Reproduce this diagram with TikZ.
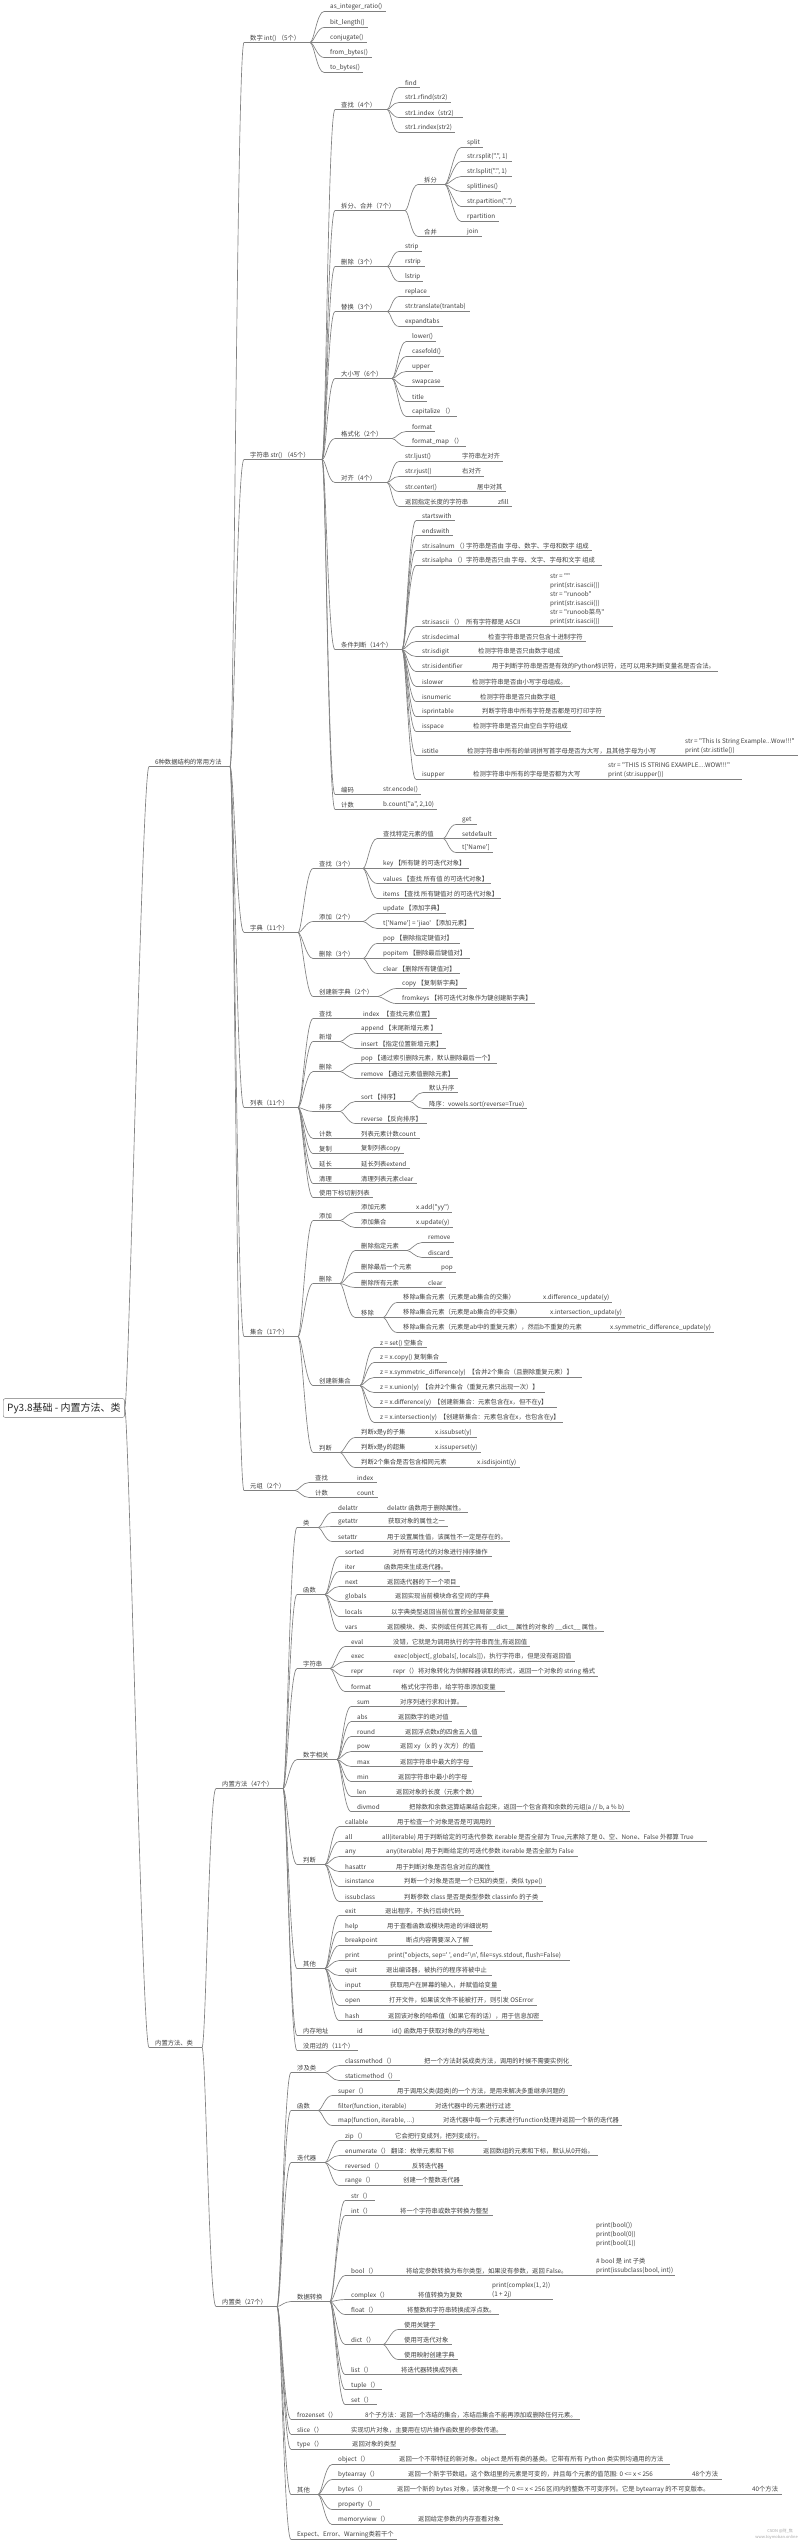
\documentclass[tikz,border=0pt]{standalone}
\usepackage{fontspec}
\setmainfont{Noto Sans CJK SC}
\newfontfamily\cjkf{Noto Sans CJK SC}
\usetikzlibrary{calc}
\tikzset{
  tx/.style={anchor=west, inner sep=0pt, font=\cjkf\fontsize{6.3}{9}\selectfont, text=black!75},
  code/.style={anchor=south west, inner sep=0pt, align=left, font=\cjkf\fontsize{6.3}{9}\selectfont, text=black!75},
  ul/.style={draw=black!50, line width=0.65pt},
  cn/.style={draw=black!50, line width=0.65pt},
  rootbox/.style={draw=black!55, rounded corners=2pt, inner xsep=4pt, inner ysep=4pt, anchor=west, font=\cjkf\fontsize{10}{12}\selectfont, text=black!85},
  wm/.style={anchor=east, inner sep=0pt, font=\cjkf\fontsize{4}{5}\selectfont, text=black!35}
}
\newcommand\tb[2]{\makebox[#1pt][l]{#2}}
\newcommand\N[6]{%
  \node[tx] (#1) at (#3,#4) {#6};
  \coordinate (#1-s) at ($(#1.west)+(-6pt,-4.5pt)$);
  \path let \p1=(#1.east), \n1={max(\x1+3pt,#5pt)} in coordinate (#1-e) at (\n1,\y1-4.5pt);
  \draw[ul] (#1-s) -- (#1-e);
  \draw[cn] (#2-e) .. controls +(4pt,0pt) and +(-7pt,0pt) .. (#1-s);
}
\begin{document}
\begin{tikzpicture}[x=1pt,y=-1pt]
\fill[white] (0,0) rectangle (800,2540);
\useasboundingbox (0,0) rectangle (800,2540);

\node[rootbox] (root) at (3,1408) {Py3.8基础 - 内置方法、类};
\coordinate (root-e) at (root.east);

\N{A}{root}{155}{762}{230}{6种数据结构的常用方法}
\N{B}{root}{155}{2043}{202}{内置方法、类}

% ---------- int
\N{Aint}{A}{250}{38}{310}{数字 int() （5个）}
\N{i1}{Aint}{330}{7}{385}{as\_integer\_ratio()}
\N{i2}{Aint}{330}{23}{368}{bit\_length()}
\N{i3}{Aint}{330}{38}{367}{conjugate()}
\N{i4}{Aint}{330}{53}{372}{from\_bytes()}
\N{i5}{Aint}{330}{68}{363}{to\_bytes()}

% ---------- str
\N{Astr}{A}{250}{455}{322}{字符串 str() （45个）}
\N{s1}{Astr}{341}{105}{387}{查找（4个）}
\N{s11}{s1}{405}{83}{417}{find}
\N{s12}{s1}{405}{98}{448}{str1.rfind(str2)}
\N{s13}{s1}{405}{113}{463}{str1.index（str2)}
\N{s14}{s1}{405}{128}{453}{str1.rindex(str2)}
\N{s2}{Astr}{341}{206}{405}{拆分、合并（7个）}
\N{s21}{s2}{424}{180}{445}{拆分}
\N{s211}{s21}{467}{143}{482}{split}
\N{s212}{s21}{467}{157}{512}{str.rsplit(".", 1)}
\N{s213}{s21}{467}{172}{512}{str.lsplit(".", 1)}
\N{s214}{s21}{467}{187}{498}{splitlines()}
\N{s215}{s21}{467}{202}{516}{str.partition(".")}
\N{s216}{s21}{467}{217}{498}{rpartition}
\N{s22}{s2}{424}{232}{445}{合并}
\N{s221}{s22}{467}{232}{482}{join}
\N{s3}{Astr}{341}{262}{387}{删除（3个）}
\N{s31}{s3}{405}{247}{418}{strip}
\N{s32}{s3}{405}{262}{425}{rstrip}
\N{s33}{s3}{405}{277}{420}{lstrip}
\N{s4}{Astr}{341}{307}{387}{替换（3个）}
\N{s41}{s4}{405}{292}{427}{replace}
\N{s42}{s4}{405}{307}{470}{str.translate(trantab)}
\N{s43}{s4}{405}{322}{440}{expandtabs}
\N{s5}{Astr}{341}{374}{392}{大小写（6个）}
\N{s51}{s5}{412}{337}{432}{lower()}
\N{s52}{s5}{412}{352}{437}{casefold()}
\N{s53}{s5}{412}{367}{430}{upper}
\N{s54}{s5}{412}{382}{442}{swapcase}
\N{s55}{s5}{412}{397}{425}{title}
\N{s56}{s5}{412}{412}{455}{capitalize （）}
\N{s6}{Astr}{341}{434}{392}{格式化（2个）}
\N{s61}{s6}{412}{427}{432}{format}
\N{s62}{s6}{412}{442}{460}{format\_map （）}
\N{s7}{Astr}{341}{478}{387}{对齐（4个）}
\N{s71}{s7}{405}{457}{502}{\tb{57}{str.ljust()}字符串左对齐}
\N{s72}{s7}{405}{472}{483}{\tb{57}{str.rjust()}右对齐}
\N{s73}{s7}{405}{487}{497}{\tb{72}{str.center()}居中对其}
\N{s74}{s7}{405}{502}{512}{\tb{93}{返回指定长度的字符串}zfill}
\N{s8}{Astr}{341}{645}{402}{条件判断（14个）}
\N{s801}{s8}{422}{516}{455}{startswith}
\N{s802}{s8}{422}{531}{450}{endswith}
\N{s803}{s8}{422}{546}{587}{\tb{44}{str.isalnum （）}字符串是否由 字母、数字、字母和数字 组成}
\N{s804}{s8}{422}{561}{602}{\tb{44}{str.isalpha （）}字符串是否只由 字母、文字、字母和文字 组成}
\N{s805}{s8}{422}{622}{613}{\tb{44}{str.isascii （）}所有字符都是 ASCII}
\N{s806}{s8}{422}{637}{583}{\tb{66}{str.isdecimal}检查字符串是否只包含十进制字符}
\N{s807}{s8}{422}{652}{560}{\tb{56}{str.isdigit}检测字符串是否只由数字组成}
\N{s808}{s8}{422}{667}{717}{\tb{70}{str.isidentifier}用于判断字符串是否是有效的Python标识符，还可以用来判断变量名是否合法。}
\N{s809}{s8}{422}{682}{568}{\tb{50}{islower}检测字符串是否由小写字母组成。}
\N{s810}{s8}{422}{697}{558}{\tb{58}{isnumeric}检测字符串是否只由数字组}
\N{s811}{s8}{422}{712}{598}{\tb{60}{isprintable}判断字符串中所有字符是否都是可打印字符}
\N{s812}{s8}{422}{727}{570}{\tb{51}{isspace}检测字符串是否只由空白字符组成}
\N{s813}{s8}{422}{751}{798}{\tb{45}{istitle}检测字符串中所有的单词拼写首字母是否为大写，且其他字母为小写}
\N{s814}{s8}{422}{775}{742}{\tb{51}{isupper}检测字符串中所有的字母是否都为大写}
\node[code] (k1) at (550,625.2) {str = ""\\print(str.isascii())\\str = "runoob"\\print(str.isascii())\\str = "runoob菜鸟"\\print(str.isascii())};
\node[code] (k2) at (685,754.2) {str = "This Is String Example...Wow!!!"\\print (str.istitle())};
\node[code] (k3) at (608,778.2) {str = "THIS IS STRING EXAMPLE....WOW!!!"\\print (str.isupper())};
\N{s9}{Astr}{341}{790}{358}{编码}
\N{s91}{s9}{383}{790}{418}{str.encode()}
\N{s10}{Astr}{341}{805}{358}{计数}
\N{s101}{s10}{383}{805}{435}{b.count("a", 2,10)}

% ---------- dict
\N{Adict}{A}{250}{928}{298}{字典（11个）}
\N{d1}{Adict}{319}{864}{363}{查找（3个）}
\N{d11}{d1}{383}{834}{443}{查找特定元素的值}
\N{d111}{d11}{462}{820}{477}{get}
\N{d112}{d11}{462}{834}{497}{setdefault}
\N{d113}{d11}{462}{848}{492}{t['Name']}
\N{d12}{d1}{383}{864}{467}{key 【所有键 的可迭代对象】}
\N{d13}{d1}{383}{879}{487}{values 【查找 所有值 的可迭代对象】}
\N{d14}{d1}{383}{894}{497}{items 【查找 所有键值对 的可迭代对象】}
\N{d2}{Adict}{319}{917}{363}{添加（2个）}
\N{d21}{d2}{383}{909}{445}{update 【添加字典】}
\N{d22}{d2}{383}{924}{473}{t['Name'] = 'jiao' 【添加元素】}
\N{d3}{Adict}{319}{954}{363}{删除（3个）}
\N{d31}{d3}{383}{939}{460}{pop 【删除指定键值对】}
\N{d32}{d3}{383}{954}{470}{popitem 【删除最后键值对】}
\N{d33}{d3}{383}{969}{460}{clear 【删除所有键值对】}
\N{d4}{Adict}{319}{992}{378}{创建新字典（2个）}
\N{d41}{d4}{402}{984}{467}{copy 【复制新字典】}
\N{d42}{d4}{402}{999}{528}{fromkeys 【将可迭代对象作为键创建新字典】}

% ---------- list
\N{Alist}{A}{250}{1103}{298}{列表（11个）}
\N{l1}{Alist}{319}{1014}{338}{查找}
\N{l11}{l1}{363}{1014}{435}{\tb{20}{index}【查找元素位置】}
\N{l2}{Alist}{319}{1037}{340}{新增}
\N{l21}{l2}{361}{1029}{442}{append 【末尾新增元素 】}
\N{l22}{l2}{361}{1044}{442}{insert 【指定位置新增元素】}
\N{l3}{Alist}{319}{1067}{340}{删除}
\N{l31}{l3}{361}{1059}{497}{pop 【通过索引删除元素，默认删除最后一个】}
\N{l32}{l3}{361}{1074}{458}{remove 【通过元素值删除元素】}
\N{l4}{Alist}{319}{1107}{340}{排序}
\N{l41}{l4}{361}{1097}{410}{sort 【排序】}
\N{l411}{l41}{429}{1088}{455}{默认升序}
\N{l412}{l41}{429}{1104}{525}{降序：vowels.sort(reverse=True)}
\N{l42}{l4}{361}{1119}{427}{reverse 【反向排序】}
\N{l5}{Alist}{319}{1134}{340}{计数}
\N{l51}{l5}{361}{1134}{420}{列表元素计数count}
\N{l6}{Alist}{319}{1149}{340}{复制}
\N{l61}{l6}{361}{1149}{402}{复制列表copy}
\N{l7}{Alist}{319}{1164}{340}{延长}
\N{l71}{l7}{361}{1164}{407}{延长列表extend}
\N{l8}{Alist}{319}{1179}{340}{清理}
\N{l81}{l8}{361}{1179}{415}{清理列表元素clear}
\N{l9}{Alist}{319}{1193}{372}{使用下标切割列表}

% ---------- set
\N{Aset}{A}{250}{1332}{298}{集合（17个）}
\N{t1}{Aset}{319}{1216}{340}{添加}
\N{t11}{t1}{361}{1208}{452}{\tb{55}{添加元素}x.add("yy")}
\N{t12}{t1}{361}{1223}{452}{\tb{55}{添加集合}x.update(y)}
\N{t2}{Aset}{319}{1279}{340}{删除}
\N{t21}{t2}{361}{1246}{407}{删除指定元素}
\N{t211}{t21}{428}{1238}{453}{remove}
\N{t212}{t21}{428}{1253}{453}{discard}
\N{t22}{t2}{361}{1268}{455}{\tb{80}{删除最后一个元素}pop}
\N{t23}{t2}{361}{1283}{445}{\tb{67}{删除所有元素}clear}
\N{t24}{t2}{361}{1313}{383}{移除}
\N{t241}{t24}{403}{1298}{612}{\tb{140}{移除a集合元素（元素是ab集合的交集）}x.difference\_update(y)}
\N{t242}{t24}{403}{1313}{623}{\tb{147}{移除a集合元素（元素是ab集合的非交集）}x.intersection\_update(y)}
\N{t243}{t24}{403}{1328}{713}{\tb{207}{移除a集合元素（元素是ab中的重复元素），然后b不重复的元素}x.symmetric\_difference\_update(y)}
\N{t3}{Aset}{319}{1381}{360}{创建新集合}
\N{t31}{t3}{380}{1343}{427}{z = set() 空集合}
\N{t32}{t3}{380}{1358}{447}{z = x.copy() 复制集合}
\N{t33}{t3}{380}{1373}{582}{z = x.symmetric\_difference(y) \ 【合并2个集合（且删除重复元素）】}
\N{t34}{t3}{380}{1388}{545}{z = x.union(y) \ 【合并2个集合（重复元素只出现一次）】}
\N{t35}{t3}{380}{1403}{557}{z = x.difference(y) \ 【创建新集合：元素包含在x，但不在y】}
\N{t36}{t3}{380}{1418}{560}{z = x.intersection(y) \ 【创建新集合：元素包含在x，也包含在y】}
\N{t4}{Aset}{319}{1448}{340}{判断}
\N{t41}{t4}{361}{1433}{477}{\tb{74}{判断x是y的子集}x.issubset(y)}
\N{t42}{t4}{361}{1448}{480}{\tb{74}{判断x是y的超集}x.issuperset(y)}
\N{t43}{t4}{361}{1463}{517}{\tb{116}{判断2个集合是否包含相同元素}x.isdisjoint(y)}

% ---------- tuple
\N{Atup}{A}{250}{1486}{295}{元组（2个）}
\N{u1}{Atup}{315}{1478}{337}{查找}
\N{u11}{u1}{357}{1478}{377}{index}
\N{u2}{Atup}{315}{1493}{337}{计数}
\N{u21}{u2}{357}{1493}{378}{count}

% ---------- built-in methods
\N{Bm}{B}{222}{1784}{283}{内置方法（47个）}
\N{m1}{Bm}{303}{1523}{318}{类}
\N{m11}{m1}{338}{1508}{468}{\tb{49}{delattr}delattr 函数用于删除属性。}
\N{m12}{m1}{338}{1522}{447}{\tb{50}{getattr}获取对象的属性之一}
\N{m13}{m1}{338}{1537}{510}{\tb{49}{setattr}用于设置属性值，该属性不一定是存在的。}
\N{m2}{Bm}{303}{1590}{325}{函数}
\N{m21}{m2}{345}{1552}{492}{\tb{48}{sorted}对所有可迭代的对象进行排序操作}
\N{m22}{m2}{345}{1567}{443}{\tb{39}{iter}函数用来生成迭代器。}
\N{m23}{m2}{345}{1582}{460}{\tb{42}{next}返回迭代器的下一个项目}
\N{m24}{m2}{345}{1597}{492}{\tb{50}{globals}返回实现当前模块命名空间的字典}
\N{m25}{m2}{345}{1612}{505}{\tb{46}{locals}以字典类型返回当前位置的全部局部变量}
\N{m26}{m2}{345}{1627}{600}{\tb{42}{vars}返回模块、类、实例或任何其它具有 \_\_dict\_\_ 属性的对象的 \_\_dict\_\_ 属性。}
\N{m3}{Bm}{303}{1664}{330}{字符串}
\N{m31}{m3}{351}{1642}{528}{\tb{42}{eval}没错，它就是为调用执行的字符串而生,有返回值}
\N{m32}{m3}{351}{1657}{570}{\tb{43}{exec}exec(object[, globals[, locals]])，执行字符串，但是没有返回值}
\N{m33}{m3}{351}{1672}{598}{\tb{42}{repr}repr（）将对象转化为供解释器读取的形式，返回一个对象的 string 格式}
\N{m34}{m3}{351}{1687}{505}{\tb{50}{format}格式化字符串，给字符串添加变量}
\N{m4}{Bm}{303}{1755}{337}{数字相关}
\N{m41}{m4}{357}{1702}{467}{\tb{43}{sum}对序列进行求和计算。}
\N{m42}{m4}{357}{1717}{452}{\tb{41}{abs}返回数字的绝对值}
\N{m43}{m4}{357}{1732}{482}{\tb{48}{round}返回浮点数x的四舍五入值}
\N{m44}{m4}{357}{1747}{483}{\tb{43}{pow}返回 xy（x 的 y 次方）的值}
\N{m45}{m4}{357}{1762}{472}{\tb{43}{max}返回字符串中最大的字母}
\N{m46}{m4}{357}{1777}{472}{\tb{41}{min}返回字符串中最小的字母}
\N{m47}{m4}{357}{1792}{482}{\tb{39}{len}返回对象的长度（元素个数）}
\N{m48}{m4}{357}{1807}{630}{\tb{52}{divmod}把除数和余数运算结果结合起来，返回一个包含商和余数的元组(a // b, a \% b)}
\N{m5}{Bm}{303}{1860}{325}{判断}
\N{m51}{m5}{345}{1822}{495}{\tb{52}{callable}用于检查一个对象是否是可调用的}
\N{m52}{m5}{345}{1837}{707}{\tb{37}{all}all(iterable) 用于判断给定的可迭代参数 iterable 是否全部为 True,元素除了是 0、空、None、False 外都算 True}
\N{m53}{m5}{345}{1852}{578}{\tb{41}{any}any(iterable) 用于判断给定的可迭代参数 iterable 是否全部为 False}
\N{m54}{m5}{345}{1867}{493}{\tb{51}{hasattr}用于判断对象是否包含对应的属性}
\N{m55}{m5}{345}{1882}{543}{\tb{59}{isinstance}判断一个对象是否是一个已知的类型，类似 type()}
\N{m56}{m5}{345}{1897}{543}{\tb{59}{issubclass}判断参数 class 是否是类型参数 classinfo 的子类}
\N{m6}{Bm}{303}{1964}{325}{其他}
\N{m61}{m6}{345}{1911}{462}{\tb{40}{exit}退出程序，不执行后续代码}
\N{m62}{m6}{345}{1927}{492}{\tb{42}{help}用于查看函数或模块用途的详细说明}
\N{m63}{m6}{345}{1941}{473}{\tb{61}{breakpoint}断点内容需要深入了解}
\N{m64}{m6}{345}{1956}{570}{\tb{43}{print}print(*objects, sep=' ', end='\textbackslash n', file=sys.stdout, flush=False)}
\N{m65}{m6}{345}{1971}{492}{\tb{41}{quit}退出编译器，被执行的程序将被中止}
\N{m66}{m6}{345}{1986}{497}{\tb{45}{input}获取用户在屏幕的输入，并赋值给变量}
\N{m67}{m6}{345}{2001}{535}{\tb{44}{open}打开文件，如果该文件不能被打开，则引发 OSError}
\N{m68}{m6}{345}{2016}{543}{\tb{43}{hash}返回该对象的哈希值（如果它有的话），用于信息加密}
\N{m7}{Bm}{303}{2031}{350}{内存地址}
\N{m71}{m7}{357}{2031}{488}{\tb{35}{id}id() 函数用于获取对象的内存地址}
\N{m8}{Bm}{303}{2046}{358}{没用过的（11个）}

% ---------- built-in classes
\N{Bc}{B}{222}{2302}{277}{内置类（27个）}
\N{c1}{Bc}{297}{2068}{325}{涉及类}
\N{c11}{c1}{345}{2061}{572}{\tb{79}{classmethod（）}把一个方法封装成类方法，调用的时候不需要实例化}
\N{c12}{c1}{345}{2076}{400}{staticmethod（）}
\N{c2}{Bc}{297}{2106}{318}{函数}
\N{c21}{c2}{338}{2091}{567}{\tb{59}{super（）}用于调用父类(超类)的一个方法，是用来解决多重继承问题的}
\N{c22}{c2}{338}{2106}{513}{\tb{97}{filter(function, iterable)}对迭代器中的元素进行过滤}
\N{c23}{c2}{338}{2121}{618}{\tb{105}{map(function, iterable, ...)}对迭代器中每一个元素进行function处理并返回一个新的迭代器}
\N{c3}{Bc}{297}{2158}{325}{迭代器}
\N{c31}{c3}{345}{2136}{485}{\tb{50}{zip（）}它会把行变成列，把列变成行。}
\N{c32}{c3}{345}{2151}{598}{\tb{46}{enumerate（）}\tb{92}{翻译：枚举元素和下标}返回数组的元素和下标，默认从0开始。}
\N{c33}{c3}{345}{2166}{445}{\tb{67}{reversed（）}反转迭代器}
\N{c34}{c3}{345}{2181}{463}{\tb{58}{range（）}创建一个整数迭代器}
\N{c4}{Bc}{297}{2297}{330}{数据转换}
\N{c41}{c4}{351}{2196}{375}{str（）}
\N{c42}{c4}{351}{2211}{493}{\tb{49}{int（）}将一个字符串或数字转换为整型}
\N{c43}{c4}{351}{2271}{675}{\tb{55}{bool（）}将给定参数转换为布尔类型，如果没有参数，返回 False。}
\N{c44}{c4}{351}{2295}{553}{\tb{67}{complex（）}将值转换为复数}
\N{c45}{c4}{351}{2310}{498}{\tb{56}{float（）}将整数和字符串转换成浮点数。}
\N{c46}{c4}{351}{2340}{383}{dict（）}
\N{c461}{c46}{404}{2325}{437}{使用关键字}
\N{c462}{c46}{404}{2340}{450}{使用可迭代对象}
\N{c463}{c46}{404}{2355}{455}{使用映射创建字典}
\N{c47}{c4}{351}{2370}{462}{\tb{50}{list（）}将迭代器转换成列表}
\N{c48}{c4}{351}{2385}{382}{tuple（）}
\N{c49}{c4}{351}{2400}{377}{set（）}
\node[code] (k4) at (596,2274.2) {print(bool())\\print(bool(0))\\print(bool(1))\\~\\\# bool 是 int 子类\\print(issubclass(bool, int))};
\node[code] (k5) at (492,2298.2) {print(complex(1, 2))\\(1 + 2j)};
\N{c5}{Bc}{297}{2415}{580}{\tb{68}{frozenset（）}8个子方法：返回一个冻结的集合，冻结后集合不能再添加或删除任何元素。}
\N{c6}{Bc}{297}{2430}{505}{\tb{54}{slice（）}实现切片对象，主要用在切片操作函数里的参数传递。}
\N{c7}{Bc}{297}{2445}{398}{\tb{55}{type（）}返回对象的类型}
\N{c8}{Bc}{297}{2490}{318}{其他}
\N{c81}{c8}{338}{2460}{670}{\tb{61}{object（）}返回一个不带特征的新对象。object 是所有类的基类。它带有所有 Python 类实例均通用的方法}
\N{c82}{c8}{338}{2475}{722}{\tb{70}{bytearray（）}\tb{284}{返回一个新字节数组。这个数组里的元素是可变的，并且每个元素的值范围: 0 <= x < 256}48个方法}
\N{c83}{c8}{338}{2490}{782}{\tb{59}{bytes（）}\tb{355}{返回一个新的 bytes 对象，该对象是一个 0 <= x < 256 区间内的整数不可变序列。它是 bytearray 的不可变版本。}40个方法}
\N{c84}{c8}{338}{2505}{380}{property（）}
\N{c85}{c8}{338}{2520}{500}{\tb{80}{memoryview（）}返回给定参数的内存查看对象}
\N{c9}{Bc}{297}{2535}{393}{Expect、Error、Warning类若干个}

\node[wm] (wm1) at (793,2531) {CSDN @阿\_焦};
\node[wm] (wm2) at (798,2537) {www.toymoban.online};
\end{tikzpicture}
\end{document}
